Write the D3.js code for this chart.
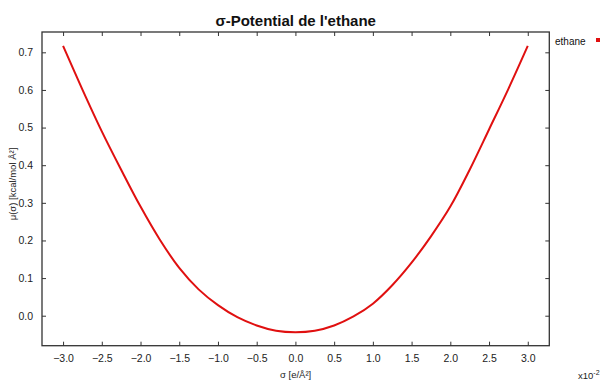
<!DOCTYPE html>
<html><head><meta charset="utf-8">
<script src="https://cdn.jsdelivr.net/npm/d3@7"></script>
<style>body{margin:0;background:#fff;} svg{display:block;font-family:"Liberation Sans",Arial,sans-serif;}</style>
</head><body>
<svg id="c" width="602" height="381"></svg>
<script>
const sigma = [-3.0,-2.75,-2.5,-2.25,-2.0,-1.75,-1.5,-1.25,-1.0,-0.75,-0.5,-0.25,0.0,0.25,0.5,0.75,1.0,1.25,1.5,1.75,2.0,2.25,2.5,2.75,3.0];
const potential = [0.717,0.601,0.490,0.388,0.290,0.202,0.127,0.070,0.028,-0.004,-0.026,-0.040,-0.044,-0.040,-0.026,-0.002,0.032,0.081,0.141,0.211,0.290,0.388,0.495,0.603,0.717];
const xTicks = [-3.0,-2.5,-2.0,-1.5,-1.0,-0.5,0.0,0.5,1.0,1.5,2.0,2.5,3.0];
const yTicks = [0.0,0.1,0.2,0.3,0.4,0.5,0.6,0.7];
const seriesName = "ethane";
const title = "σ-Potential de l'ethane";
const xLabel = "σ [e/Å²]";
const yLabel = "μ(σ) [kcal/mol Å²]";

const svg = d3.select("#c");
const L=42, R=549.3, T=32, B=345.7;
const x = d3.scaleLinear().domain([-3.272,3.278]).range([L,R]);
const y = d3.scaleLinear().domain([-0.0797,0.754]).range([B,T]);
const axisColor = "#333";

svg.append("rect").attr("x",L).attr("y",T).attr("width",R-L).attr("height",B-T)
  .attr("fill","none").attr("stroke",axisColor).attr("stroke-width",1.3);

function styleAxis(g){ g.select(".domain").remove(); g.selectAll("line").attr("stroke",axisColor).attr("stroke-width",1);
  g.selectAll("text").attr("fill","#222").style("font-size","10.5px").style("font-family","'Liberation Sans',Arial,sans-serif"); }

svg.append("g").attr("transform",`translate(0,${B})`)
  .call(d3.axisBottom(x).tickValues(xTicks).tickFormat(d3.format(".1f")).tickSizeInner(-4).tickPadding(9))
  .call(styleAxis);
svg.append("g").attr("transform",`translate(0,${T})`)
  .call(d3.axisTop(x).tickValues(xTicks).tickFormat("").tickSizeInner(-4))
  .call(styleAxis);
svg.append("g").attr("transform",`translate(${L},0)`)
  .call(d3.axisLeft(y).tickValues(yTicks).tickFormat(d3.format(".1f")).tickSizeInner(-4).tickPadding(9))
  .call(styleAxis);
svg.append("g").attr("transform",`translate(${R},0)`)
  .call(d3.axisRight(y).tickValues(yTicks).tickFormat("").tickSizeInner(-4))
  .call(styleAxis);

const line = d3.line().x((d,i)=>x(sigma[i])).y(d=>y(d)).curve(d3.curveCatmullRom);
svg.append("path").datum(potential).attr("d",line).attr("fill","none")
  .attr("stroke","#e01010").attr("stroke-width",2);

svg.append("text").attr("x",(L+R)/2).attr("y",25.5).attr("text-anchor","middle")
  .style("font-size","15px").style("font-weight","bold").attr("fill","#111").text(title);

svg.append("text").attr("x",(L+R)/2).attr("y",378).attr("text-anchor","middle")
  .style("font-size","9.5px").attr("fill","#222").text(xLabel);
svg.append("text").attr("transform","translate(16,184) rotate(-90)").attr("text-anchor","middle")
  .style("font-size","9.5px").attr("fill","#222").text(yLabel);

const ex = svg.append("text").attr("x",578).attr("y",379).style("font-size","9.5px").attr("fill","#222");
ex.append("tspan").text("x10");
ex.append("tspan").attr("dy",-4).style("font-size","7px").text("-2");

svg.append("text").attr("x",555).attr("y",45).style("font-size","10px").attr("fill","#111").text(seriesName);
svg.append("rect").attr("x",596).attr("y",38).attr("width",4).attr("height",4).attr("fill","#e01010");
</script>
</body></html>
